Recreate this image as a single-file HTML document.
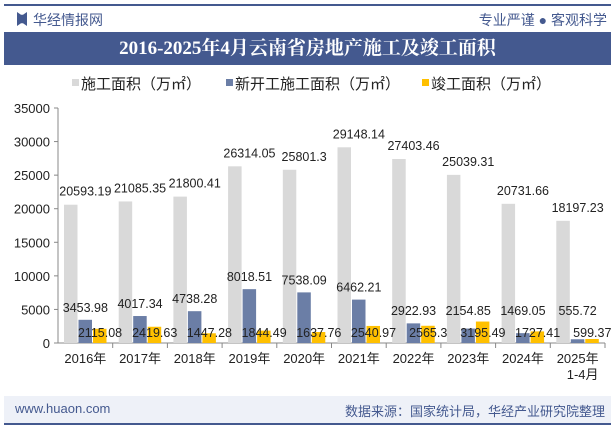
<!DOCTYPE html>
<html><head><meta charset="utf-8"><style>
body{margin:0;width:615px;height:427px;background:#fff;font-family:"Liberation Sans","Noto Sans CJK SC",sans-serif;overflow:hidden;position:relative}
.abs{position:absolute}
</style></head><body>
<div class="abs" style="left:4px;top:4px;width:607px;height:2px;background:#44598f"></div>
<div class="abs" style="left:17px;top:12px;width:10px;height:14px;background:#44598f;clip-path:polygon(0 0,40% 20%,60% 20%,100% 0,100% 100%,60% 80%,40% 80%,0 100%)"></div>
<div class="abs" style="left:33px;top:10px;font-size:14px;color:#44598f">华经情报网</div>
<div class="abs" style="right:8px;top:10px;font-size:14px;color:#44598f">专业严谨 ● 客观科学</div>
<div class="abs" style="left:4px;top:32px;width:607px;height:33px;background:#44598f;color:#fff;font-size:19px;font-weight:bold;text-align:center;line-height:33px;font-family:'Liberation Serif','Noto Serif CJK SC',serif">2016-2025年4月云南省房地产施工及竣工面积</div>
<svg class="abs" style="left:0;top:0" width="615" height="427">
<g id="legend" font-size="15" fill="#222">
<rect x="72" y="79" width="7" height="7" fill="#d9d9d9"/><text x="81" y="89">施工面积（万㎡）</text>
<rect x="226" y="79" width="7" height="7" fill="#6b7ea6"/><text x="235" y="89">新开工施工面积（万㎡）</text>
<rect x="422" y="79" width="7" height="7" fill="#ffc000"/><text x="431" y="89">竣工面积（万㎡）</text>
</g>
<g id="axes"></g><g id="bars"></g><g id="labels" font-size="12.5" fill="#222"></g>
</svg>
<div class="abs" style="left:4px;top:396px;width:607px;height:27px;background:#eef1f8;border-bottom:2px solid #44598f"></div>
<div class="abs" style="left:15px;top:401px;font-size:13px;color:#44598f">www.huaon.com</div>
<div class="abs" style="right:10px;top:401px;font-size:13px;color:#44598f">数据来源：国家统计局，华经产业研究院整理</div>
<script>
const categories=["2016年","2017年","2018年","2019年","2020年","2021年","2022年","2023年","2024年","2025年"];
const construction=[20593.19,21085.35,21800.41,26314.05,25801.3,29148.14,27403.46,25039.31,20731.66,18197.23];
const newStart=[3453.98,4017.34,4738.28,8018.51,7538.09,6462.21,2922.93,2154.85,1469.05,555.72];
const completed=[2115.08,2419.63,1447.28,1844.49,1637.76,2540.97,2565.3,3195.49,1727.41,599.37];
const yTicks=[0,5000,10000,15000,20000,25000,30000,35000];
const NS="http://www.w3.org/2000/svg";
const x0=58,band=54.7,yBase=343,yTop=108,yMax=35000;
const y=v=>yBase-(yBase-yTop)*v/yMax;
const bx=(i,k)=>x0+i*band+6+k*14.5;
function mk(tag,at,par,txt){const e=document.createElementNS(NS,tag);for(const k in at)e.setAttribute(k,at[k]);if(txt!==undefined)e.textContent=txt;document.getElementById(par).appendChild(e);return e;}
const ax=mk('line',{x1:x0,x2:605,y1:yBase,y2:yBase,stroke:'#888'},'axes');


const ay=mk('line',{x1:x0,x2:x0,y1:yTop,y2:yBase,stroke:'#888'},'axes');


yTicks.forEach(t=>{
 const tx=mk('text',{x:x0-8,y:y(t)+5,'text-anchor':'end','font-size':13,fill:'#222'},'axes',t);
 
 
 mk('line',{x1:x0-4,x2:x0,y1:y(t),y2:y(t),stroke:'#888'},'axes');
});
categories.forEach((c,i)=>{
 mk('line',{x1:x0+(i+1)*band,x2:x0+(i+1)*band,y1:yBase,y2:yBase+5,stroke:'#888'},'axes');
 const cx=x0+i*band+band/2;
 const tx=mk('text',{x:cx,y:yBase+20,'text-anchor':'middle','font-size':13,fill:'#222'},'axes',c);
 
 
 if(i===9){mk('text',{x:cx+5,y:yBase+36,'text-anchor':'middle','font-size':13,fill:'#222'},'axes','1-4月');}
 [[construction,'#d9d9d9'],[newStart,'#6b7ea6'],[completed,'#ffc000']].forEach((s,k)=>{
  const v=s[0][i];
  const r=mk('rect',{x:bx(i,k),y:y(v),width:13.5,height:yBase-y(v),fill:s[1]},'bars');
  
  
  let lx,ly;
  if(k===0){lx=cx;ly=y(v)-13+4;}
  else if(k===1){lx=cx;ly=Math.min(y(v)-12,311)+4;}
  else{lx=bx(i,2)+7;ly=337;}
  const l=mk('text',{x:lx,y:ly,'text-anchor':'middle'},'labels',v);
  
  
 });
});
</script>
</body></html>
